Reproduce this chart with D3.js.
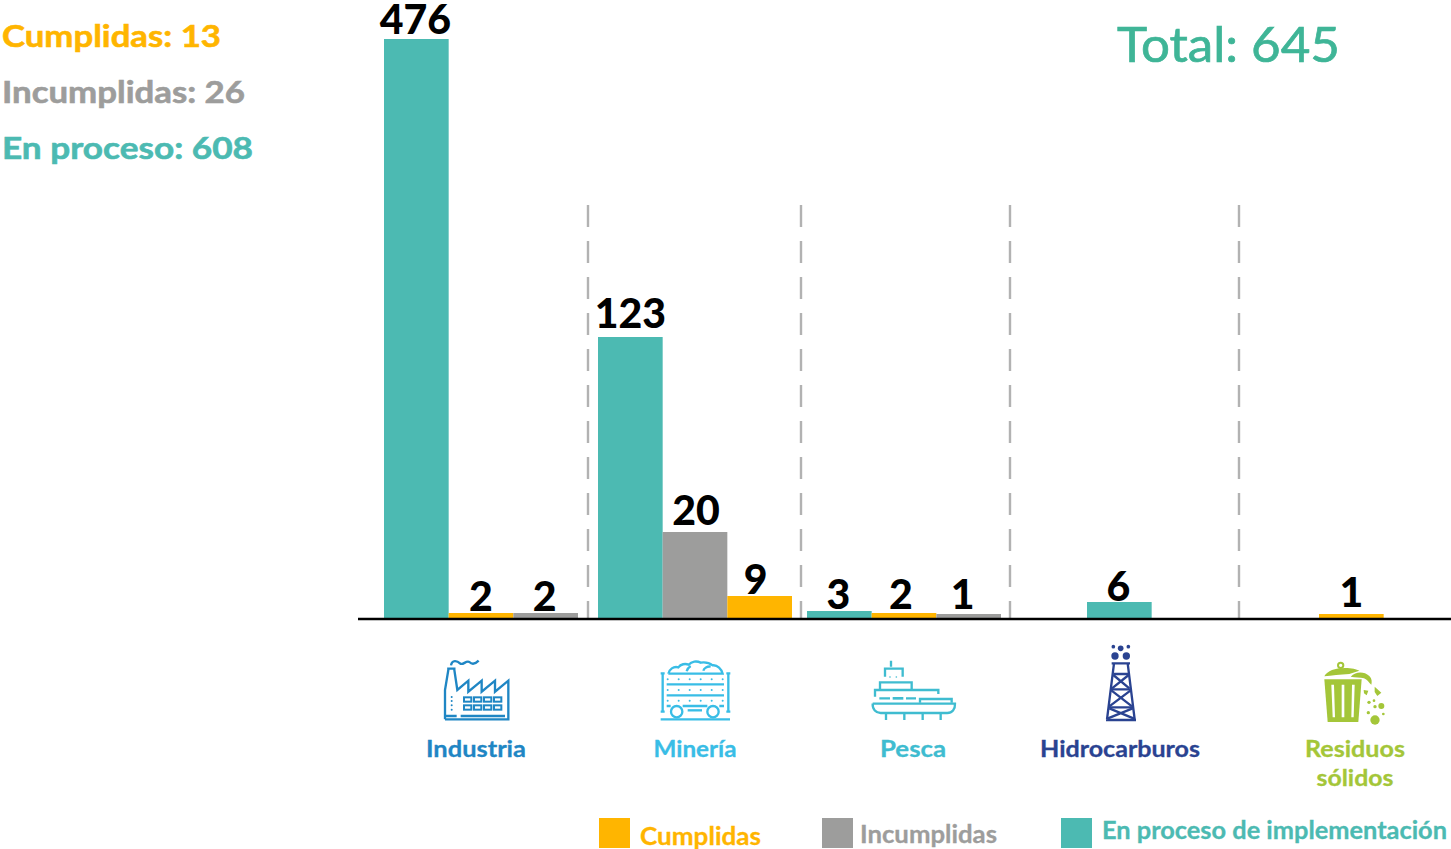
<!DOCTYPE html>
<html lang="es">
<head>
<meta charset="utf-8">
<title>Total: 645</title>
<script src="https://cdn.jsdelivr.net/npm/d3@7"></script>
<style>
  html, body { margin: 0; padding: 0; background: #fff; }
  svg { display: block; }
  text { font-family: Lato, "Open Sans", sans-serif; }
</style>
</head>
<body>
<svg id="chart" width="1451" height="849"></svg>
<script>
// Data
const categories = ['Industria', 'Minería', 'Pesca', 'Hidrocarburos', 'Residuos sólidos'];
const enProceso = [476, 123, 3, 6, null];
const cumplidas = [2, 9, 2, null, 1];
const incumplidas = [2, 20, 1, null, null];
// bars don't come in the same order in every group
const barOrder = [
    ['enProceso', 'cumplidas', 'incumplidas'],
    ['enProceso', 'incumplidas', 'cumplidas'],
    ['enProceso', 'cumplidas', 'incumplidas'],
    ['enProceso'],
    ['cumplidas']
];
const summaryLabels = ['Cumplidas: 13', 'Incumplidas: 26', 'En proceso: 608'];
const totalLabel = 'Total: 645';
const legendLabels = ['Cumplidas', 'Incumplidas', 'En proceso de implementación'];

const seriesValues = { enProceso, cumplidas, incumplidas };
const colors = { enProceso: '#4cbab2', cumplidas: '#ffb500', incumplidas: '#9d9d9c' };

const svg = d3.select('#chart');
const baseY = 618;

// The original bars are not to a linear scale, so the axis is piecewise
const y = d3.scaleLinear()
    .domain([0, 1, 2, 3, 6, 9, 20, 123, 476])
    .range([baseY, 614, 613, 611, 602, 596, 532, 337, 39]);

// Groups are unevenly spaced
const groupX = d3.scaleOrdinal().domain(categories).range([384, 598, 807, 1087, 1319]);
const slotX = d3.scaleBand().domain([0, 1, 2]).range([0, 194]);

// Flatten to one record per bar
const bars = [];
categories.forEach((c, i) => {
    barOrder[i].forEach((s, slot) => {
        bars.push({ category: c, series: s, slot: slot, value: seriesValues[s][i] });
    });
});

// space between bar top and number, and sideways nudge, same order as bars
const labelGap = [5, 2, 2, 9, 7, 2, 2, 4, 5, 1, 7];
const labelShift = [0, 1, 0, 1, 2, -3, 0, -2, -5, 0, 1];

// Helper: text forced to the width it has in the reference
function fitText(parent, str, x, yPos, size, weight, color, width, anchor, thicken) {
    return parent.append('text')
        .attr('x', x)
        .attr('y', yPos)
        .attr('font-size', size)
        .attr('font-weight', weight)
        .attr('fill', color)
        .attr('stroke', thicken ? color : 'none')
        .attr('stroke-width', thicken || 0)
        .attr('text-anchor', anchor || 'start')
        .attr('textLength', width)
        .attr('lengthAdjust', 'spacingAndGlyphs')
        .text(str);
}

// Separators
const separators = [588, 801, 1010, 1239];
svg.append('g').selectAll('line')
    .data(separators)
    .join('line')
    .attr('x1', d => d).attr('x2', d => d)
    .attr('y1', 205).attr('y2', baseY)
    .attr('stroke', '#b2b2b2')
    .attr('stroke-width', 2.4)
    .attr('stroke-dasharray', '22 14');

// Bars
svg.append('g').selectAll('rect')
    .data(bars)
    .join('rect')
    .attr('x', d => groupX(d.category) + slotX(d.slot))
    .attr('y', d => y(d.value))
    .attr('width', slotX.bandwidth())
    .attr('height', d => baseY - y(d.value))
    .attr('fill', d => colors[d.series]);

// Numbers over the bars
svg.append('g').selectAll('text')
    .data(bars)
    .join('text')
    .attr('x', (d, i) => groupX(d.category) + slotX(d.slot) + slotX.bandwidth() / 2 - 1 + labelShift[i])
    .attr('y', (d, i) => y(d.value) - labelGap[i])
    .attr('text-anchor', 'middle')
    .attr('font-size', 41)
    .attr('font-weight', 900)
    .attr('fill', '#000')
    .text(d => d.value);

// Axis line
svg.append('line')
    .attr('x1', 358).attr('x2', 1451)
    .attr('y1', baseY + 1).attr('y2', baseY + 1)
    .attr('stroke', '#000')
    .attr('stroke-width', 2.4);

// Top left summary
const summaryColors = [colors.cumplidas, colors.incumplidas, colors.enProceso];
const summaryWidths = [219, 243, 251];
summaryLabels.forEach((s, i) => {
    fitText(svg, s, 2, 47 + i * 56, 31, 700, summaryColors[i], summaryWidths[i], 'start', 0.6);
});

// Total
fitText(svg, totalLabel, 1117, 62, 48, 400, '#3fb597', 223, 'start', 0.7);

// Category names
const catColors = ['#1f86c4', '#39bde6', '#3fbcd0', '#2a4391', '#a4c639'];
const catX = [476, 695, 913, 1120, 1355];
const catWidths = [100, 83, 66, 160, 100];
categories.forEach((c, i) => {
    if (c === 'Residuos sólidos') {
        fitText(svg, 'Residuos', catX[i], 757, 23, 700, catColors[i], catWidths[i], 'middle', 0.3);
        fitText(svg, 'sólidos', catX[i], 786, 23, 700, catColors[i], 77, 'middle', 0.3);
    } else {
        fitText(svg, c, catX[i], 757, 23, 700, catColors[i], catWidths[i], 'middle', 0.3);
    }
});

// Legend
const legendKeys = ['cumplidas', 'incumplidas', 'enProceso'];
const legendBoxX = [599, 822, 1061];
const legendTextX = [640, 860, 1102];
const legendTextY = [845, 843, 839];
const legendWidths = [121, 137, 345];
legendKeys.forEach((k, i) => {
    svg.append('rect')
        .attr('x', legendBoxX[i]).attr('y', 818)
        .attr('width', 31).attr('height', 30)
        .attr('fill', colors[k]);
    fitText(svg, legendLabels[i], legendTextX[i], legendTextY[i], 24, 700, colors[k], legendWidths[i], 'start', 0.3);
});

// Icons: coordinates are taken at 3x, hence the scale(1/3)
function iconGroup(ox, oy, color, sw) {
    return svg.append('g')
        .attr('transform', `translate(${ox},${oy}) scale(${1 / 3})`)
        .attr('fill', 'none')
        .attr('stroke', color)
        .attr('stroke-width', sw)
        .attr('stroke-linejoin', 'miter');
}
const addPath = (g, d) => g.append('path').attr('d', d);
function dots(g, xs, ys, r, color) {
    xs.forEach(px => ys.forEach(py => {
        g.append('circle').attr('cx', px).attr('cy', py).attr('r', r)
            .attr('fill', color).attr('stroke', 'none');
    }));
}

// Industria
const factory = iconGroup(420, 630, catColors[0], 7);
addPath(factory, 'M75 268V180L85 120V116H103V120L112 180L145 152V185L185 152V185L225 152V185L265 152V268H75');
addPath(factory, 'M93 106C96 88 112 92 120 100C128 108 138 90 148 96C156 104 166 102 176 92');
addPath(factory, 'M75 258H110M122 258H255');
[202, 226].forEach(wy => {
    [132, 162, 192, 222].forEach(wx => {
        factory.append('rect').attr('x', wx).attr('y', wy).attr('width', 22).attr('height', 13).attr('stroke-width', 6);
    });
});
dots(factory, [95], [201, 213, 226, 239], 3, catColors[0]);

// Minería
const cart = iconGroup(420, 630, catColors[1], 7);
addPath(cart, 'M745 131C748 118 760 108 775 112C782 102 796 100 806 104C815 94 830 92 842 98C855 96 870 100 878 106C892 104 905 118 908 131H745');
addPath(cart, 'M800 124C802 116 806 112 812 108M850 122C852 114 862 108 872 110');
addPath(cart, 'M728 130V245M722 130H734M722 245H734M925 130V245M919 130H931M919 245H931');
addPath(cart, 'M740 163H912M740 196H912M740 228H752M788 228H862M898 228H912');
addPath(cart, 'M803 241H846');
cart.append('circle').attr('cx', 770).attr('cy', 245).attr('r', 17);
cart.append('circle').attr('cx', 879).attr('cy', 245).attr('r', 17);
addPath(cart, 'M722 268H930');
dots(cart, [743, 776, 809, 842, 875, 908], [148, 180, 212], 3, catColors[1]);

// Pesca
const ship = iconGroup(850, 630, catColors[2], 7);
addPath(ship, 'M123 92V110M105 140V116H158V140');
addPath(ship, 'M90 178V157H185V178');
addPath(ship, 'M75 200V180H265V192');
addPath(ship, 'M88 205H120M168 205H198');
ship.append('path').attr('d', 'M128 205H160').attr('stroke-width', 8);
addPath(ship, 'M210 218V207H305V218');
addPath(ship, 'M68 221H315C316 238 306 249 292 249H92C78 249 67 238 68 221');
addPath(ship, 'M108 270V252M163 270V252M218 270V252M272 270V252');
dots(ship, [120, 139], [141], 2.5, catColors[2]);

// Hidrocarburos
const rig = iconGroup(850, 630, catColors[3], 7);
addPath(rig, 'M768 270H858M771 268L792 100M854 268L833 100M785 100H840');
addPath(rig, 'M790 132H836M783 178H842M776 232H849');
addPath(rig, 'M790 135L838 175M836 135L786 175M784 181L846 229M842 181L778 229M778 235L852 266M848 235L772 266');
dots(rig, [790, 835], [50], 5.5, catColors[3]);
dots(rig, [812], [55], 8.5, catColors[3]);
dots(rig, [795, 829], [78], 11, catColors[3]);

// Residuos sólidos
const bin = iconGroup(1290, 640, catColors[4], 6);
const binFill = catColors[4];
bin.append('circle').attr('cx', 152).attr('cy', 76).attr('r', 8);
bin.append('path').attr('fill', binFill).attr('stroke', 'none')
    .attr('d', 'M103 109C112 92 135 84 165 84C185 84 200 88 208 92L178 102C150 104 125 106 103 109Z');
bin.append('path').attr('fill', binFill).attr('stroke', 'none')
    .attr('d', 'M103 118H215L205 246H113Z');
bin.append('path').attr('fill', binFill).attr('stroke', 'none')
    .attr('d', 'M182 110C198 94 222 94 238 108C246 116 246 126 244 134C236 128 232 118 222 115C210 112 196 112 182 110Z');
bin.append('path').attr('fill', '#fff').attr('stroke', 'none')
    .attr('d', 'M124 134H132L135 232H128ZM155 134H163V232H155ZM186 134H194L191 232H184Z');
bin.append('path').attr('fill', binFill).attr('stroke', 'none')
    .attr('d', 'M221 150L235 152L230 166L222 160ZM254 140L274 158L262 168L254 156Z');
[[237, 187, 5], [252, 182, 4], [255, 200, 5], [274, 198, 9], [235, 218, 5], [280, 222, 4], [255, 240, 14]].forEach(p => {
    bin.append('circle').attr('cx', p[0]).attr('cy', p[1]).attr('r', p[2])
        .attr('fill', binFill).attr('stroke', 'none');
});
</script>
</body>
</html>
